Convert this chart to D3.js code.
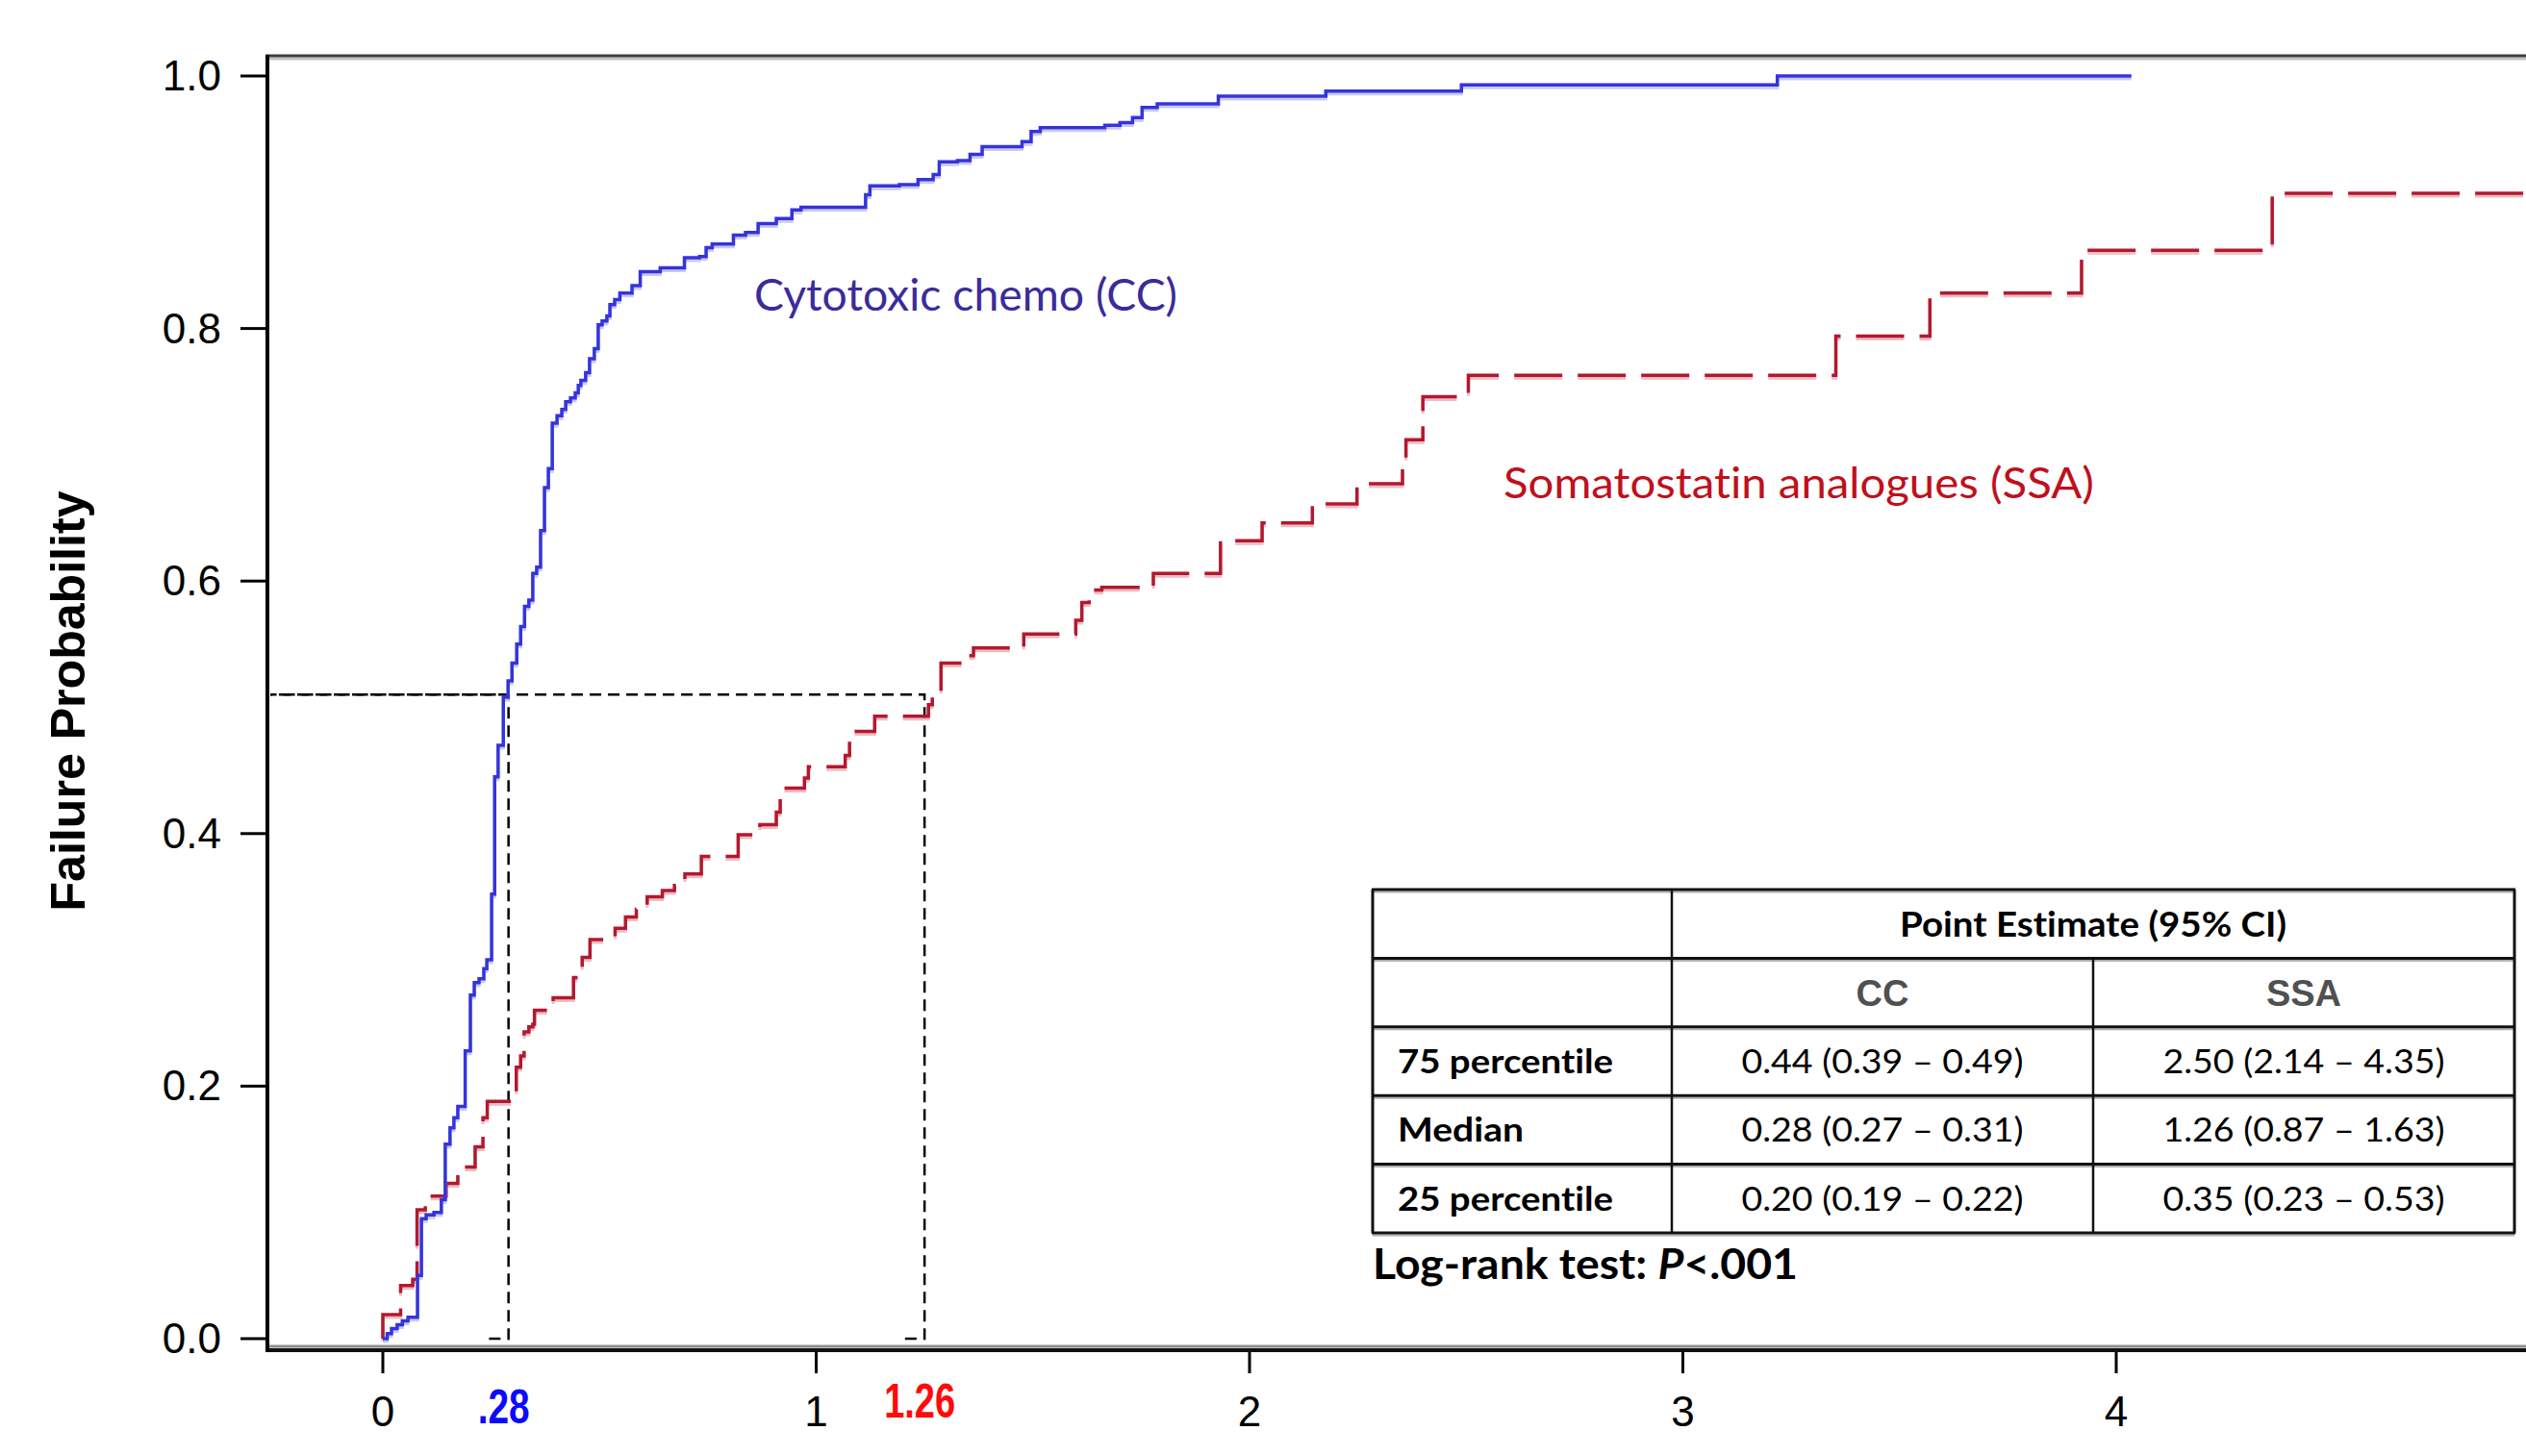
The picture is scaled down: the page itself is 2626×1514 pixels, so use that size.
<!DOCTYPE html>
<meta charset="utf-8">
<script src="https://cdn.jsdelivr.net/npm/d3@7"></script>
<style>
  body {
    margin: 0;
    background: #fff;
  }

  svg {
    display: block;
  }

  .tick-label {
    font-family: "Liberation Sans", Arial, sans-serif;
    font-size: 44px;
    fill: #000;
  }

  .cal {
    font-family: Lato, "Open Sans", sans-serif;
    font-variant-ligatures: none;
  }
</style>

<!-- div container -->
<div id="wrapper"></div>

<script>
  // Cytotoxic chemo (CC) step curve: time in years, failure probability
  const ccTime = [0, 0.010, 0.020, 0.033, 0.045, 0.058, 0.080, 0.089, 0.100, 0.118, 0.135, 0.144, 0.155, 0.164,
    0.173, 0.190, 0.202, 0.211, 0.222, 0.233, 0.240, 0.251, 0.258, 0.266, 0.278, 0.289, 0.298, 0.309, 0.318,
    0.327, 0.337, 0.346, 0.355, 0.364, 0.373, 0.382, 0.391, 0.402, 0.413, 0.422, 0.433, 0.444, 0.451, 0.457,
    0.468, 0.477, 0.488, 0.497, 0.506, 0.517, 0.524, 0.535, 0.547, 0.575, 0.594, 0.640, 0.696, 0.731, 0.746,
    0.760, 0.809, 0.837, 0.866, 0.908, 0.944, 0.965, 1.114, 1.124, 1.192, 1.235, 1.270, 1.284, 1.326, 1.355,
    1.383, 1.475, 1.496, 1.517, 1.666, 1.701, 1.730, 1.752, 1.787, 1.928, 2.176, 2.489, 3.218, 4.035];
  const ccProb = [0, 0.004, 0.008, 0.011, 0.014, 0.017, 0.050, 0.095, 0.098, 0.100, 0.110, 0.154, 0.167, 0.175,
    0.184, 0.228, 0.272, 0.282, 0.285, 0.293, 0.300, 0.352, 0.445, 0.470, 0.508, 0.521, 0.535, 0.550, 0.564,
    0.580, 0.585, 0.606, 0.611, 0.640, 0.674, 0.689, 0.725, 0.731, 0.736, 0.742, 0.745, 0.749, 0.755, 0.759,
    0.765, 0.776, 0.784, 0.803, 0.806, 0.810, 0.819, 0.823, 0.828, 0.834, 0.845, 0.848, 0.856, 0.857, 0.864,
    0.867, 0.874, 0.876, 0.883, 0.887, 0.894, 0.896, 0.906, 0.913, 0.914, 0.918, 0.922, 0.932, 0.933, 0.938,
    0.944, 0.948, 0.956, 0.959, 0.961, 0.963, 0.967, 0.975, 0.978, 0.984, 0.988, 0.993, 1.000, 1.000];

  // Somatostatin analogues (SSA) step curve
  const ssaTime = [0, 0, 0.041, 0.069, 0.079, 0.098, 0.146, 0.173, 0.213, 0.231, 0.241, 0.308, 0.318, 0.326,
    0.337, 0.346, 0.350, 0.393, 0.440, 0.460, 0.478, 0.536, 0.560, 0.585, 0.610, 0.645, 0.673, 0.697, 0.735,
    0.820, 0.870, 0.908, 0.917, 0.973, 0.982, 1.067, 1.077, 1.135, 1.259, 1.268, 1.288, 1.347, 1.363, 1.479,
    1.599, 1.613, 1.630, 1.659, 1.778, 1.933, 2.029, 2.145, 2.248, 2.353, 2.361, 2.400, 2.505, 3.353, 3.570,
    3.920, 4.360, 4.960];
  const ssaProb = [0, 0.019, 0.042, 0.047, 0.102, 0.113, 0.123, 0.136, 0.152, 0.175, 0.188, 0.215, 0.224, 0.243,
    0.247, 0.249, 0.260, 0.270, 0.286, 0.302, 0.316, 0.325, 0.334, 0.340, 0.350, 0.355, 0.359, 0.368, 0.382,
    0.399, 0.407, 0.417, 0.436, 0.444, 0.453, 0.462, 0.481, 0.493, 0.502, 0.512, 0.535, 0.541, 0.547, 0.558,
    0.569, 0.583, 0.593, 0.595, 0.606, 0.632, 0.646, 0.661, 0.677, 0.695, 0.712, 0.746, 0.763, 0.794, 0.828,
    0.862, 0.907, 0.907];

  // axes
  const yTicks = [0, 0.2, 0.4, 0.6, 0.8, 1.0];
  const xTicks = [0, 1, 2, 3, 4];

  // median guide lines
  const medianLevel = 0.51;
  const medianTimes = [0.29, 1.25];
  const medianLabels = [".28", "1.26"];
  const medianColors = ["#0a0aff", "#ff0a0a"];

  // table
  const tableGroups = ["CC", "SSA"];
  const tableRows = ["75 percentile", "Median", "25 percentile"];
  const ccEstimates = ["0.44 (0.39 \u2013 0.49)", "0.28 (0.27 \u2013 0.31)", "0.20 (0.19 \u2013 0.22)"];
  const ssaEstimates = ["2.50 (2.14 \u2013 4.35)", "1.26 (0.87 \u2013 1.63)", "0.35 (0.23 \u2013 0.53)"];

  const W = 2626, H = 1514;
  const frame = { left: 278, top: 58, bottom: 1404 };

  const svg = d3.select("#wrapper")
    .append("svg")
    .attr("width", W)
    .attr("height", H);

  const x = d3.scaleLinear().domain([0, 4]).range([398, 2200]);
  const y = d3.scaleLinear().domain([0, 1]).range([1392, 79]);

  // frame
  svg.append("line")
    .attr("x1", frame.left).attr("x2", W + 10)
    .attr("y1", frame.top + 3).attr("y2", frame.top + 3)
    .attr("stroke", "#c0c0c0").attr("stroke-width", 3);
  svg.append("line")
    .attr("x1", frame.left - 2).attr("x2", W + 10)
    .attr("y1", frame.top).attr("y2", frame.top)
    .attr("stroke", "#3c3c3c").attr("stroke-width", 3);
  svg.append("line")
    .attr("x1", frame.left).attr("x2", W + 10)
    .attr("y1", frame.bottom - 4).attr("y2", frame.bottom - 4)
    .attr("stroke", "#8c8c8c").attr("stroke-width", 3);
  svg.append("line")
    .attr("x1", frame.left - 2).attr("x2", W + 10)
    .attr("y1", frame.bottom).attr("y2", frame.bottom)
    .attr("stroke", "#111").attr("stroke-width", 4);
  svg.append("line")
    .attr("x1", frame.left).attr("x2", frame.left)
    .attr("y1", frame.top - 1).attr("y2", frame.bottom + 2)
    .attr("stroke", "#000").attr("stroke-width", 4);

  // Y axis ticks + labels
  svg.append("g")
    .selectAll("line")
    .data(yTicks)
    .join("line")
    .attr("x1", frame.left - 28).attr("x2", frame.left)
    .attr("y1", d => y(d)).attr("y2", d => y(d))
    .attr("stroke", "#000").attr("stroke-width", 3);
  svg.append("g")
    .selectAll("text")
    .data(yTicks)
    .join("text")
    .attr("class", "tick-label")
    .attr("text-anchor", "end")
    .attr("x", 230)
    .attr("y", d => y(d) + 15)
    .text(d3.format(".1f"));

  // X axis ticks + labels
  svg.append("g")
    .selectAll("line")
    .data(xTicks)
    .join("line")
    .attr("x1", d => x(d)).attr("x2", d => x(d))
    .attr("y1", frame.bottom + 2).attr("y2", 1428)
    .attr("stroke", "#000").attr("stroke-width", 3);
  svg.append("g")
    .selectAll("text")
    .data(xTicks)
    .join("text")
    .attr("class", "tick-label")
    .attr("text-anchor", "middle")
    .attr("x", d => x(d))
    .attr("y", 1483)
    .text(d => d);

  // Y axis title
  svg.append("text")
    .attr("transform", "translate(88,729) rotate(-90)")
    .attr("text-anchor", "middle")
    .attr("textLength", 437)
    .attr("lengthAdjust", "spacingAndGlyphs")
    .style("font-family", "'Liberation Sans', Arial, sans-serif")
    .style("font-weight", "bold")
    .style("font-size", "50px")
    .text("Failure Probability");

  // median guide lines
  const guide = d3.line().x(d => x(d[0])).y(d => y(d[1]));
  medianTimes.forEach(t => {
    svg.append("path")
      .attr("d", guide([[t - 0.045, 0], [t, 0], [t, medianLevel], [x.invert(frame.left + 3), medianLevel]]))
      .attr("fill", "none")
      .attr("stroke", "#000")
      .attr("stroke-width", 2.5)
      .attr("stroke-dasharray", "12,7");
  });

  // step curves
  const stepLine = d3.line()
    .x(d => x(d[0]))
    .y(d => y(d[1]))
    .curve(d3.curveStepAfter);

  const ccPts = d3.zip(ccTime, ccProb);
  const ssaPts = d3.zip(ssaTime, ssaProb);

  svg.append("path")
    .attr("d", stepLine(ssaPts))
    .attr("transform", "translate(0,3)")
    .attr("fill", "none")
    .attr("stroke", "#ecbcc4")
    .attr("stroke-width", 3)
    .attr("stroke-dasharray", "50,16");
  svg.append("path")
    .attr("d", stepLine(ssaPts))
    .attr("fill", "none")
    .attr("stroke", "#b3182f")
    .attr("stroke-width", 3.5)
    .attr("stroke-dasharray", "50,16");

  svg.append("path")
    .attr("d", stepLine(ccPts))
    .attr("transform", "translate(0,3)")
    .attr("fill", "none")
    .attr("stroke", "#c9c9f3")
    .attr("stroke-width", 3);
  svg.append("path")
    .attr("d", stepLine(ccPts))
    .attr("fill", "none")
    .attr("stroke", "#3434dc")
    .attr("stroke-width", 3.5);

  // median labels under the axis
  svg.append("g")
    .selectAll("text")
    .data(medianTimes)
    .join("text")
    .attr("x", d => x(d) - 5)
    .attr("y", (d, i) => i === 0 ? 1480 : 1474)
    .attr("text-anchor", "middle")
    .attr("textLength", (d, i) => i === 0 ? 54 : 74)
    .attr("lengthAdjust", "spacingAndGlyphs")
    .style("font-family", "'Liberation Sans', Arial, sans-serif")
    .style("font-weight", "bold")
    .style("font-size", "50px")
    .style("fill", (d, i) => medianColors[i])
    .text((d, i) => medianLabels[i]);

  // curve annotations
  svg.append("text")
    .attr("class", "cal")
    .attr("x", 784).attr("y", 323)
    .attr("textLength", 440)
    .attr("lengthAdjust", "spacingAndGlyphs")
    .style("font-size", "46px")
    .style("fill", "#3b2b9b")
    .text("Cytotoxic chemo (CC)");
  svg.append("text")
    .attr("class", "cal")
    .attr("x", 1563).attr("y", 518)
    .attr("textLength", 614)
    .attr("lengthAdjust", "spacingAndGlyphs")
    .style("font-size", "45px")
    .style("fill", "#c0101c")
    .text("Somatostatin analogues (SSA)");

  // estimates table
  const colEdges = [1427, 1738, 2176, 2614];
  const rowBand = d3.scaleBand().domain(d3.range(5)).range([925, 1282]);
  const bw = rowBand.bandwidth();
  const tbl = svg.append("g");

  const hLines = d3.range(6).map(i => i < 5 ? rowBand(i) : rowBand(4) + bw);
  tbl.selectAll(".hl")
    .data(hLines)
    .join("line")
    .attr("x1", colEdges[0]).attr("x2", colEdges[3])
    .attr("y1", d => d + 2.5).attr("y2", d => d + 2.5)
    .attr("stroke", "#b0b0b0").attr("stroke-width", 2);
  tbl.selectAll(".hl2")
    .data(hLines)
    .join("line")
    .attr("x1", colEdges[0] - 1).attr("x2", colEdges[3] + 1)
    .attr("y1", d => d).attr("y2", d => d)
    .attr("stroke", "#111").attr("stroke-width", 3);
  tbl.selectAll(".vl")
    .data(colEdges)
    .join("line")
    .attr("x1", d => d).attr("x2", d => d)
    .attr("y1", (d, i) => i === 2 ? rowBand(1) : rowBand(0))
    .attr("y2", rowBand(4) + bw)
    .attr("stroke", "#111").attr("stroke-width", (d, i) => i === 0 || i === 3 ? 3 : 2.5);

  const colMid = i => (colEdges[i] + colEdges[i + 1]) / 2;

  tbl.append("text")
    .attr("class", "cal")
    .attr("x", (colEdges[1] + colEdges[3]) / 2)
    .attr("y", rowBand(0) + bw / 2 + 13)
    .attr("text-anchor", "middle")
    .attr("textLength", 402)
    .attr("lengthAdjust", "spacingAndGlyphs")
    .style("font-weight", "bold")
    .style("font-size", "36px")
    .text("Point Estimate (95% CI)");

  tbl.selectAll(".grp")
    .data(tableGroups)
    .join("text")
    .attr("x", (d, i) => colMid(i + 1))
    .attr("y", rowBand(1) + bw / 2 + 14)
    .attr("text-anchor", "middle")
    .style("font-family", "'Liberation Sans', Arial, sans-serif")
    .style("font-weight", "bold")
    .style("font-size", "38px")
    .style("fill", "#505050")
    .text(d => d);

  tbl.selectAll(".rowlab")
    .data(tableRows)
    .join("text")
    .attr("class", "cal")
    .attr("x", 1453)
    .attr("y", (d, i) => rowBand(i + 2) + bw / 2 + 12.5)
    .attr("textLength", (d, i) => i === 1 ? 131 : 224)
    .attr("lengthAdjust", "spacingAndGlyphs")
    .style("font-weight", "bold")
    .style("font-size", "34px")
    .text(d => d);

  [ccEstimates, ssaEstimates].forEach((vals, c) => {
    tbl.selectAll(".est" + c)
      .data(vals)
      .join("text")
      .attr("class", "cal")
      .attr("x", colMid(c + 1))
      .attr("y", (d, i) => rowBand(i + 2) + bw / 2 + 12.5)
      .attr("text-anchor", "middle")
      .attr("textLength", 293)
      .attr("lengthAdjust", "spacingAndGlyphs")
      .style("font-size", "34px")
      .text(d => d);
  });

  const lr = svg.append("text")
    .attr("class", "cal")
    .attr("x", 1427).attr("y", 1330)
    .attr("textLength", 442)
    .attr("lengthAdjust", "spacingAndGlyphs")
    .style("font-weight", "bold")
    .style("font-size", "44px");
  lr.append("tspan").text("Log-rank test: ");
  lr.append("tspan").style("font-style", "italic").text("P");
  lr.append("tspan").text("<.001");
</script>
